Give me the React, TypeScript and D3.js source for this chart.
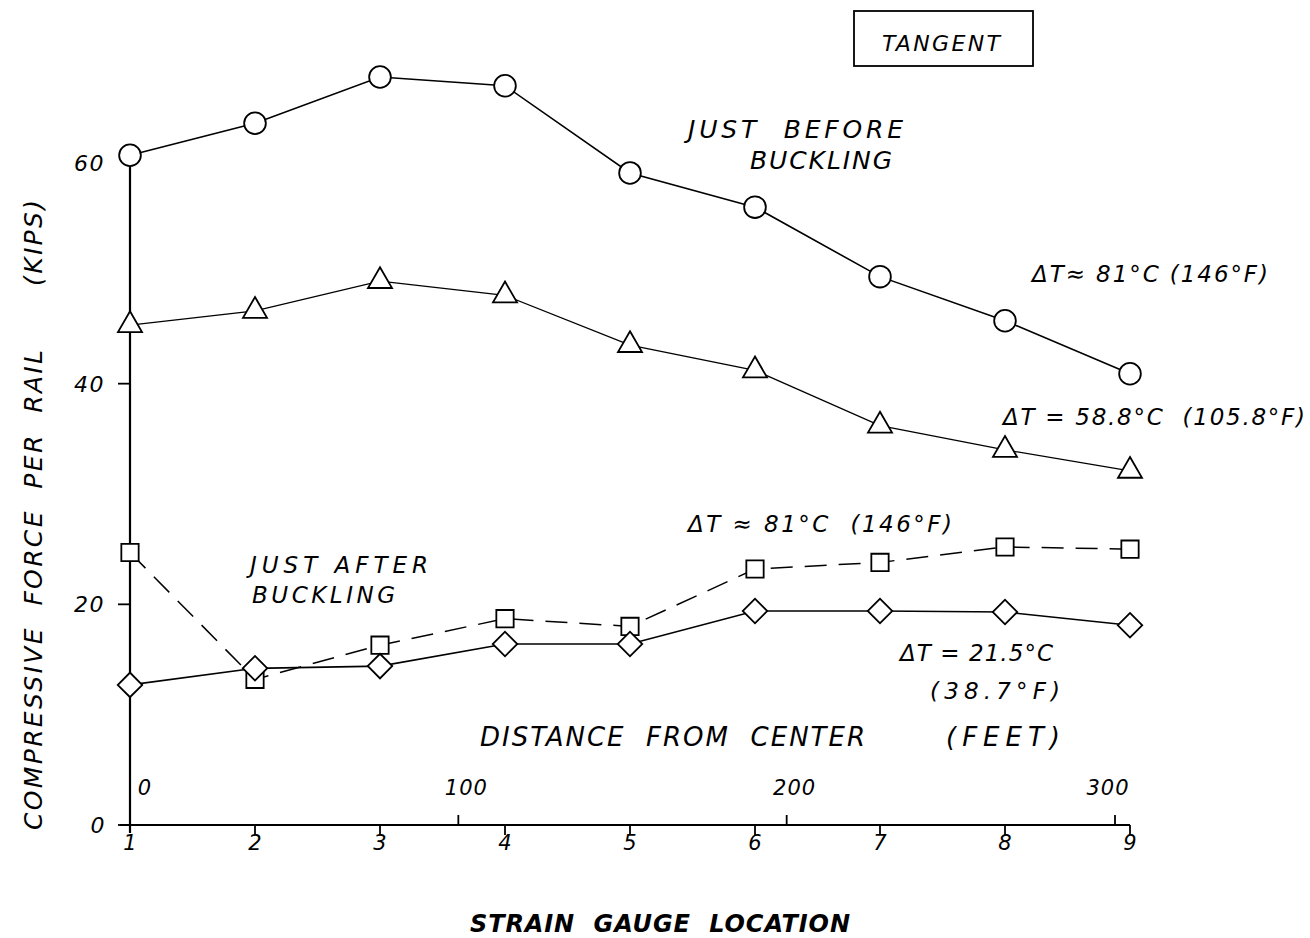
import React, { Component } from "react";
import * as d3 from "d3";

// strain gauge locations 1..9
const locations = [1, 2, 3, 4, 5, 6, 7, 8, 9];
// compressive force per rail (kips)
const beforeHot = [60.7, 63.6, 67.8, 67.0, 59.1, 56.0, 49.7, 45.7, 40.9]; // circles
const beforeWarm = [45.3, 46.6, 49.3, 48.0, 43.5, 41.2, 36.2, 34.0, 32.1]; // triangles
const afterHot = [24.7, 13.2, 16.3, 18.7, 18.0, 23.2, 23.8, 25.2, 25.0]; // squares, dashed
const afterCool = [12.7, 14.2, 14.4, 16.4, 16.4, 19.4, 19.4, 19.3, 18.1]; // diamonds
const yTicks = [0, 20, 40, 60];
const distTicks = [0, 100, 200, 300];

const FONT = "'DejaVu Sans', sans-serif";

class App extends Component {
  svgRef = React.createRef<SVGSVGElement>();

  componentDidMount() {
    this.chart();
  }

  componentDidUpdate() {
    this.chart();
  }

  chart() {
    const svg = d3.select(this.svgRef.current);
    svg.selectAll("*").remove();

    const x = d3.scaleLinear().domain([1, 9]).range([130, 1130]);
    const y = d3.scaleLinear().domain([0, 60]).range([825, 163]);
    const xDist = d3.scaleLinear().domain([0, 300]).range([130, 1115]);

    const g = svg.append("g");

    // axes lines
    g.append("line").attr("x1", x(1)).attr("x2", x(1)).attr("y1", y(60.7)).attr("y2", y(0) + 8)
      .attr("stroke", "#000").attr("stroke-width", 2.2);
    g.append("line").attr("x1", x(1) - 10).attr("x2", x(9)).attr("y1", y(0)).attr("y2", y(0))
      .attr("stroke", "#000").attr("stroke-width", 1.8);

    // y ticks + labels
    g.selectAll(".ytick").data(yTicks.filter(d => d < 60)).join("line").attr("class", "ytick")
      .attr("x1", x(1) - 12).attr("x2", x(1)).attr("y1", d => y(d)).attr("y2", d => y(d))
      .attr("stroke", "#000").attr("stroke-width", 1.8);
    g.selectAll(".ylab").data(yTicks).join("text").attr("class", "ylab")
      .attr("x", d => (d === 0 ? 106 : 105)).attr("y", d => y(d) + 8)
      .attr("text-anchor", "end").attr("font-family", FONT).attr("font-style", "italic")
      .attr("font-size", 22).attr("letter-spacing", 1.5).text(d => d);

    // strain gauge ticks (downwards)
    g.selectAll(".xtick").data(locations.slice(1)).join("line").attr("class", "xtick")
      .attr("x1", d => x(d)).attr("x2", d => x(d)).attr("y1", y(0)).attr("y2", y(0) + 10)
      .attr("stroke", "#000").attr("stroke-width", 1.8);
    g.selectAll(".xlab").data(locations).join("text").attr("class", "xlab")
      .attr("x", d => x(d)).attr("y", 850).attr("text-anchor", "middle")
      .attr("font-family", FONT).attr("font-style", "italic").attr("font-size", 21).text(d => d);

    // distance ticks (upwards)
    g.selectAll(".dtick").data(distTicks.slice(1)).join("line").attr("class", "dtick")
      .attr("x1", d => xDist(d)).attr("x2", d => xDist(d)).attr("y1", y(0)).attr("y2", y(0) - 10)
      .attr("stroke", "#000").attr("stroke-width", 1.8);
    g.selectAll(".dlab").data(distTicks).join("text").attr("class", "dlab")
      .attr("x", d => (d === 0 ? xDist(d) + 15 : d === 300 ? xDist(d) - 7 : xDist(d) + 8))
      .attr("y", 795).attr("text-anchor", "middle")
      .attr("font-family", FONT).attr("font-style", "italic").attr("font-size", 21).attr("letter-spacing", 1)
      .text(d => d);

    const series = [
      { values: beforeHot, symbol: d3.symbolCircle, size: 370, rot: 0, dash: null, sw: 1.6 },
      { values: beforeWarm, symbol: d3.symbolTriangle, size: 250, rot: 0, dash: null, sw: 1.3 },
      { values: afterHot, symbol: d3.symbolSquare, size: 300, rot: 0, dash: "22,12", sw: 1.5 },
      { values: afterCool, symbol: d3.symbolSquare, size: 300, rot: 45, dash: null, sw: 1.6 },
    ];

    const line = d3.line<number>().x((d, i) => x(locations[i])).y(d => y(d));

    g.selectAll(".series-line").data(series).join("path").attr("class", "series-line")
      .attr("d", s => line(s.values)).attr("fill", "none").attr("stroke", "#000")
      .attr("stroke-width", s => s.sw).attr("stroke-dasharray", s => s.dash);

    series.forEach(s => {
      g.append("g").selectAll("path").data(s.values).join("path")
        .attr("d", d3.symbol().type(s.symbol).size(s.size)())
        .attr("transform", (d, i) => `translate(${x(locations[i])},${y(d)}) rotate(${s.rot})`)
        .attr("fill", "#fff").attr("stroke", "#000").attr("stroke-width", 1.8);
    });

    // titles
    svg.append("text").attr("transform", "translate(42,515) rotate(-90)").attr("text-anchor", "middle")
      .attr("font-family", FONT).attr("font-style", "italic").attr("font-size", 25)
      .attr("textLength", 630).attr("lengthAdjust", "spacing").attr("xml:space", "preserve")
      .text("COMPRESSIVE  FORCE  PER  RAIL      (KIPS)");
    svg.append("text").attr("x", 470).attr("y", 932)
      .attr("font-family", FONT).attr("font-style", "italic").attr("font-weight", "bold").attr("font-size", 24)
      .attr("textLength", 380).attr("lengthAdjust", "spacing").attr("xml:space", "preserve")
      .text("STRAIN  GAUGE  LOCATION");

    // [text, left x, baseline y, width, font size]
    const notes: [string, number, number, number, number][] = [
      ["DISTANCE  FROM  CENTER", 480, 746, 385, 26],
      ["(FEET)", 946, 746, 114, 26],
      ["JUST  BEFORE", 688, 138, 215, 25],
      ["BUCKLING", 750, 169, 142, 25],
      ["ΔT≈ 81°C (146°F)", 1032, 282, 236, 23],
      ["ΔT = 58.8°C  (105.8°F)", 1003, 425, 302, 23],
      ["ΔT ≈ 81°C  (146°F)", 688, 532, 264, 23],
      ["JUST AFTER", 250, 573, 178, 23],
      ["BUCKLING", 252, 603, 143, 23],
      ["ΔT = 21.5°C", 900, 661, 153, 23],
      ["(38.7°F)", 930, 699, 130, 23],
    ];
    svg.selectAll(".note").data(notes).join("text").attr("class", "note")
      .attr("x", d => d[1]).attr("y", d => d[2]).attr("font-family", FONT).attr("font-style", "italic")
      .attr("font-size", d => d[4]).attr("textLength", d => d[3]).attr("lengthAdjust", "spacing")
      .attr("xml:space", "preserve").text(d => d[0]);

    // TANGENT box
    svg.append("rect").attr("x", 854).attr("y", 11).attr("width", 179).attr("height", 55)
      .attr("fill", "none").attr("stroke", "#000").attr("stroke-width", 1.8);
    svg.append("text").attr("x", 882).attr("y", 51)
      .attr("font-family", FONT).attr("font-style", "italic").attr("font-size", 22)
      .attr("textLength", 118).attr("lengthAdjust", "spacing").text("TANGENT");
  }

  render() {
    return (
      <svg ref={this.svgRef} width={1310} height={938}
        style={{ position: "absolute", left: 0, top: 0, background: "#fff" }} />
    );
  }
}

export default App;
